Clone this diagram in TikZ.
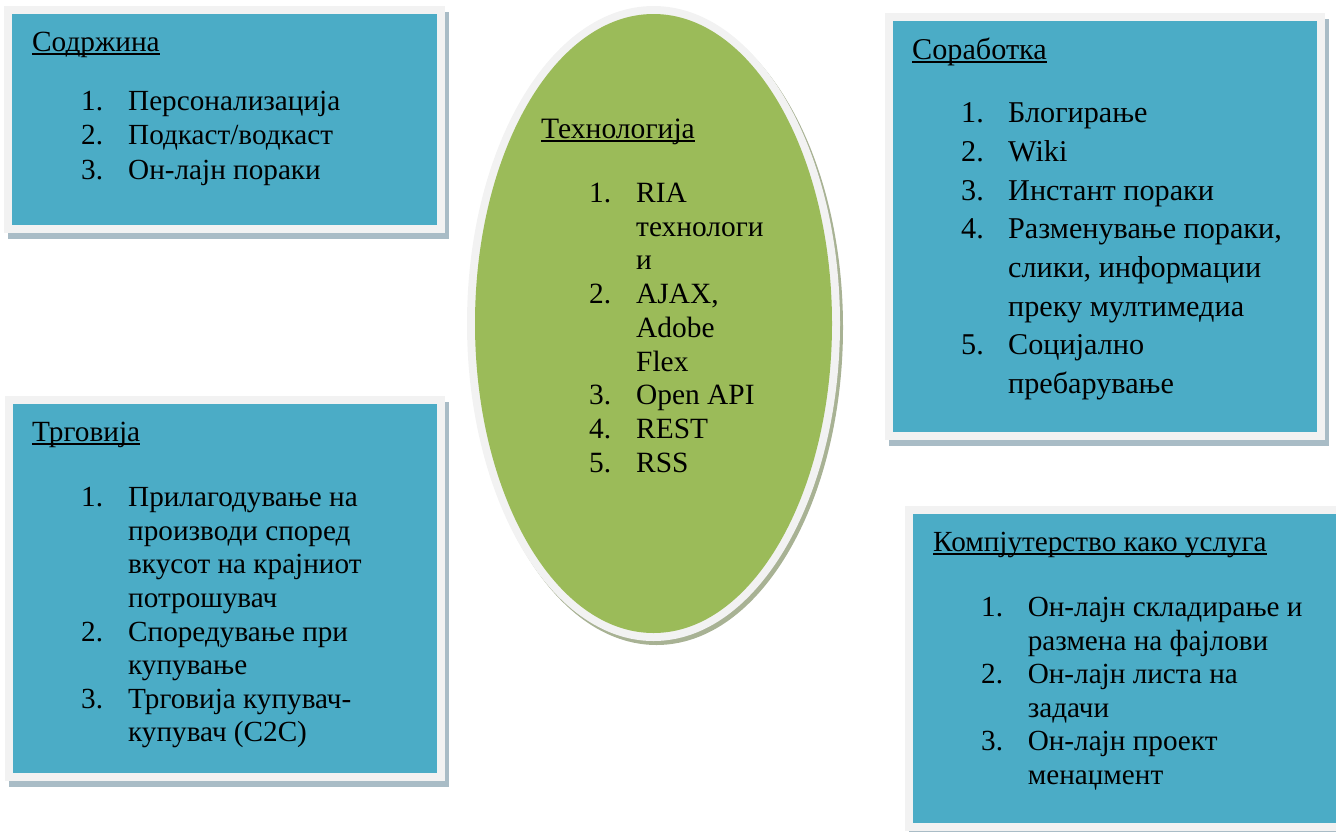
\documentclass[tikz,border=0pt]{standalone}
\usepackage{fontspec}
\setmainfont{Liberation Serif}
\usepackage{array}

\definecolor{panelblue}{HTML}{4BACC6}
\definecolor{framegray}{HTML}{F2F2F2}
\definecolor{techgreen}{HTML}{9BBB59}
\definecolor{boxshadow}{HTML}{A9BCC6}
\definecolor{ovalshadow}{HTML}{A8B294}

\tikzset{
  heading/.style={anchor=base west, inner sep=0pt},
  itemlist/.style={anchor=base west, inner sep=0pt},
  headrule/.style={line width=1.3pt, black},
}

% framed panel with a soft drop shadow: lower-left and upper-right corners of the frame
\newcommand\panel[4]{%
  \fill[boxshadow] (#1+4,#2+6) rectangle (#3+4,#4+6);
  \fill[framegray] (#1,#2) rectangle (#3,#4);
  \fill[panelblue] (#1+8,#2+8) rectangle (#3-8,#4-8);
}
% underline for a heading node, drawn just below its baseline
\newcommand\headline[1]{%
  \draw[headrule] ([yshift=-3pt]#1.base west) -- ([yshift=-3pt]#1.base east);
}
\newcommand\fs[2]{\fontsize{#1}{#2}\selectfont}

\begin{document}
\begin{tikzpicture}[x=1pt, y=-1pt]
\useasboundingbox (0,0) rectangle (1336,831);
\clip (0,0) rectangle (1336,831);

% ---- panels ----
\panel{4}{6}{445}{233}
\panel{885}{13}{1325}{440}
\panel{5}{396}{445}{781}
\panel{905}{506}{1345}{831}
\fill[panelblue] (913,514) rectangle (1345,823);

% ---- central oval ----
\fill[ovalshadow] (656.5,327.5) ellipse [x radius=186.5pt, y radius=317.5pt];
\fill[framegray] (653.5,323.5) ellipse [x radius=186.5pt, y radius=317.5pt];
\fill[techgreen] (653.5,323.5) ellipse [x radius=178.5pt, y radius=309.5pt];

% ---- Содржина ----
\node[heading, font=\fs{29.3}{34}] (contentT) at (32,51) {Содржина};
\headline{contentT}
\node[itemlist, font=\fs{29.2}{34.5}] (contentL) at (81,110)
  {\begin{tabular}[t]{@{}p{47pt}@{}l@{}}
   1. & Персонализација\\
   2. & Подкаст/водкаст\\
   3. & Он-лајн пораки
   \end{tabular}};

% ---- Соработка ----
\node[heading, font=\fs{30.2}{38.7}] (collabT) at (912,59) {Соработка};
\headline{collabT}
\node[itemlist, font=\fs{30.2}{38.7}] (collabL) at (961,122.7)
  {\begin{tabular}[t]{@{}p{47pt}@{}l@{}}
   1. & Блогирање\\
   2. & Wiki\\
   3. & Инстант пораки\\
   4. & Разменување пораки,\\
      & слики, информации\\
      & преку мултимедиа\\
   5. & Социјално\\
      & пребарување
   \end{tabular}};

% ---- Трговија ----
\node[heading, font=\fs{29.3}{34}] (tradeT) at (32,441) {Трговија};
\headline{tradeT}
\node[itemlist, font=\fs{29.2}{33.6}] (tradeL) at (81,506.7)
  {\begin{tabular}[t]{@{}p{47pt}@{}l@{}}
   1. & Прилагодување на\\
      & производи според\\
      & вкусот на крајниот\\
      & потрошувач\\
   2. & Споредување при\\
      & купување\\
   3. & Трговија купувач-\\
      & купувач (С2С)
   \end{tabular}};

% ---- Компјутерство како услуга ----
\node[heading, font=\fs{29.2}{34}] (cloudT) at (933,551) {Компјутерство како услуга};
\headline{cloudT}
\node[itemlist, font=\fs{29.2}{33.5}] (cloudL) at (981,616.7)
  {\begin{tabular}[t]{@{}p{46.6pt}@{}l@{}}
   1. & Он-лајн складирање и\\
      & размена на фајлови\\
   2. & Он-лајн листа на\\
      & задачи\\
   3. & Он-лајн проект\\
      & менаџмент
   \end{tabular}};

% ---- Технологија ----
\node[heading, font=\fs{29.6}{34}] (techT) at (541,138) {Технологија};
\headline{techT}
\node[itemlist, font=\fs{29.4}{33.7}] (techL) at (589,202.5)
  {\begin{tabular}[t]{@{}p{47pt}@{}l@{}}
   1. & RIA\\
      & технологи\\
      & и\\
   2. & AJAX,\\
      & Adobe\\
      & Flex\\
   3. & Open API\\
   4. & REST\\
   5. & RSS
   \end{tabular}};
\end{tikzpicture}
\end{document}
